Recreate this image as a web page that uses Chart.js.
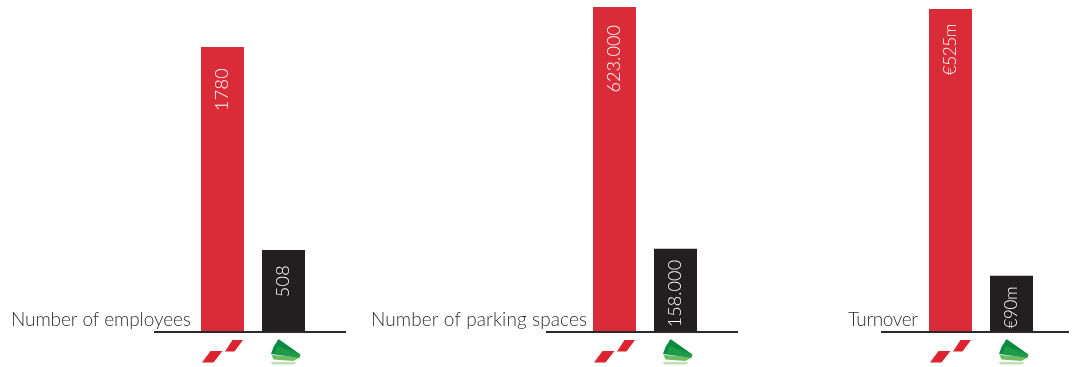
<!DOCTYPE html>
<html>
<head>
<meta charset="utf-8">
<title>Comparison</title>
<script src="https://cdn.jsdelivr.net/npm/chart.js@4"></script>
<style>
    html, body { margin: 0; padding: 0; background: #fff; overflow: hidden; }
    #wrap { position: relative; width: 1075px; height: 367px; }
    canvas { position: absolute; top: 0; }
</style>
</head>
<body>
<div id="wrap">
    <canvas id="employees" width="360" height="367" style="left:0"></canvas>
    <canvas id="parking" width="400" height="367" style="left:360px"></canvas>
    <canvas id="turnover" width="275" height="367" style="left:800px"></canvas>
</div>
<script>
// 데이터
const companies = ['Red', 'Green'];
const employeesValues = [1780, 508];
const employeesLabels = ['1780', '508'];
const parkingValues = [623000, 158000];
const parkingLabels = ['623.000', '158.000'];
const turnoverValues = [525, 90];
const turnoverLabels = ['€525m', '€90m'];

const RED = '#d92c38';
const BLACK = '#231f20';

// 막대 아래 빨간 로고
function drawRedLogo(ctx, cx, base) {
    ctx.fillStyle = '#dc2430';
    [[[-20.5, 31.5], [-12, 20], [0, 20], [-9, 31.5]],
     [[2.5, 20.5], [10, 9], [20.5, 9], [12, 20.5]]].forEach(function(shape) {
        ctx.beginPath();
        shape.forEach(function(p) { ctx.lineTo(cx + p[0], base + p[1]); });
        ctx.closePath();
        ctx.fill();
    });
}

// 막대 아래 초록 로고
function drawGreenLogo(ctx, cx, base) {
    const layers = [
        ['#bfe0b4', [[-13, 31], [13, 31], [10, 33.5], [-11, 33.5]]],
        ['#6fbd62', [[-12, 24], [17, 26], [10, 30], [-10, 28.5]]],
        ['#0a8a42', [[-5, 8], [17, 23.5], [15.5, 26.5], [-12.5, 23], [-10, 16]]],
        ['#1f9c49', [[-6, 15], [17, 23.5], [15.5, 26.5], [-9, 22.5]]]
    ];
    layers.forEach(function(layer) {
        ctx.fillStyle = layer[0];
        ctx.beginPath();
        layer[1].forEach(function(p) { ctx.lineTo(cx + p[0], base + p[1]); });
        ctx.closePath();
        ctx.fill();
    });
}

// 기준선, 제목, 값 라벨, 로고를 그리는 플러그인
const decorations = {
    id: 'decorations',
    afterDatasetsDraw(chart, args, opts) {
        const ctx = chart.ctx;
        const area = chart.chartArea;
        const bars = chart.getDatasetMeta(0).data;

        ctx.save();
        ctx.fillStyle = '#2b2a2b';
        ctx.fillRect(area.left - opts.lineLeft, area.bottom, opts.lineLeft + area.width + opts.lineRight, 2);

        ctx.fillStyle = '#2f2d2e';
        ctx.font = '300 19px Lato';
        ctx.letterSpacing = opts.titleSpacing + 'px';
        ctx.textAlign = 'left';
        ctx.textBaseline = 'alphabetic';
        ctx.fillText(opts.title, opts.titleX, area.bottom - 5);

        bars.forEach(function(bar, i) {
            ctx.save();
            ctx.translate(bar.x, bar.y + opts.insets[i]);
            ctx.rotate(-Math.PI / 2);
            ctx.font = '300 ' + opts.valueSize + 'px Lato';
            ctx.letterSpacing = opts.spacing + 'px';
            ctx.fillStyle = '#ffffff';
            ctx.textAlign = 'right';
            ctx.textBaseline = 'middle';
            ctx.fillText(opts.labels[i], 0, 0);
            ctx.restore();
        });

        ctx.filter = 'blur(0.5px)';
        drawRedLogo(ctx, bars[0].x, area.bottom);
        drawGreenLogo(ctx, bars[1].x, area.bottom);
        ctx.restore();
    }
};

// 패널 하나 생성
function makePanel(id, values, yMax, padLeft, padRight, deco) {
    return new Chart(document.getElementById(id), {
        type: 'bar',
        data: {
            labels: companies,
            datasets: [{
                data: values,
                backgroundColor: [RED, BLACK],
                borderWidth: 0,
                categoryPercentage: 1,
                barPercentage: 43 / 61
            }]
        },
        options: {
            responsive: false,
            animation: false,
            layout: { padding: { left: padLeft, right: padRight, top: 0, bottom: 36 } },
            scales: {
                x: { display: false },
                y: { display: false, min: 0, max: yMax }
            },
            plugins: {
                legend: { display: false },
                tooltip: { enabled: false },
                decorations: deco
            }
        },
        plugins: [decorations]
    });
}

makePanel('employees', employeesValues, 2074.6, 192, 46, {
    title: 'Number of employees', titleX: 11, titleSpacing: -0.1,
    labels: employeesLabels, insets: [21, 15], valueSize: 18, spacing: 0.3,
    lineLeft: 38, lineRight: 32
});
makePanel('parking', parkingValues, 636460, 224, 54, {
    title: 'Number of parking spaces', titleX: 11, titleSpacing: 0.1,
    labels: parkingLabels, insets: [18, 11], valueSize: 18, spacing: 0.1,
    lineLeft: 38, lineRight: 32
});
makePanel('turnover', turnoverValues, 539.7, 120, 33, {
    title: 'Turnover', titleX: 48, titleSpacing: -0.4,
    labels: turnoverLabels, insets: [15, 11], valueSize: 17, spacing: -0.4,
    lineLeft: 39, lineRight: 27
});
</script>
</body>
</html>
